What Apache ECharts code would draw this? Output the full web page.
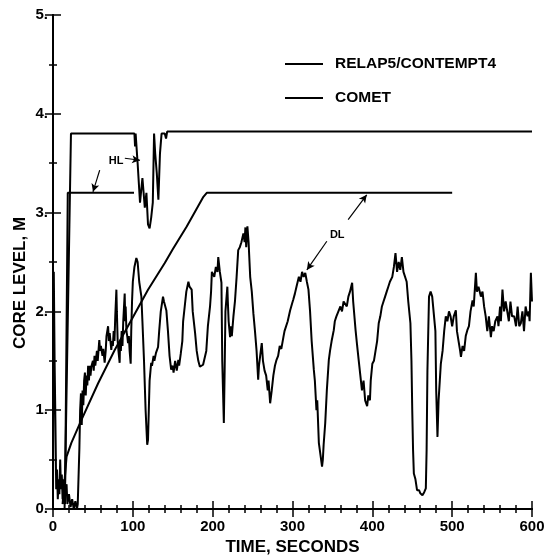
<!DOCTYPE html>
<html>
<head>
<meta charset="utf-8">
<script src="https://cdn.jsdelivr.net/npm/echarts@6/dist/echarts.min.js"></script>
<style>
  html, body { margin: 0; padding: 0; background: #fff; }
  #chart { width: 557px; height: 557px; }
</style>
</head>
<body>
<div id="chart"></div>
<script>
  // RELAP5/CONTEMPT4 core level (noisy curve)
  var relapTime = [0, 1, 2, 3, 4, 5, 6, 7, 8, 9, 10, 11, 12, 13, 14, 15, 17, 18, 20, 22, 24, 26, 28, 30, 31, 33, 34, 35, 36, 37, 38, 39, 40, 41, 42, 43, 44, 45, 46, 47, 48, 50, 51, 52, 53, 55, 56, 58, 59, 60, 62, 63, 64.7, 66, 67, 69, 70, 71, 73, 74, 75, 76, 77, 78, 79.4, 80, 81, 82, 83.5, 84, 85, 86, 87, 88, 89.8, 90.5, 91, 92, 93, 94, 95, 96, 97.3, 98, 99, 100, 102, 104.4, 106, 108, 110.7, 112, 114, 116, 118, 119, 120, 121, 123, 124, 126, 127, 129, 131.6, 133, 135, 137.8, 139, 140, 142, 144, 146, 148, 150, 151, 153, 155, 157, 158, 160, 162, 163, 165.4, 167, 169.6, 171, 173.7, 175, 178, 180, 182, 184, 186, 188, 190.5, 192, 194, 196.7, 198, 199, 201, 202, 204, 206, 207, 209, 211, 212, 214, 215, 216, 218.4, 219, 220, 221.8, 223, 224, 226, 228, 230, 232, 234, 236, 238.5, 240, 241, 242, 243.5, 245, 247, 249, 251, 253, 255, 257, 258, 259.5, 261.5, 263, 265, 267, 269, 270, 272, 274, 276, 278, 280, 282, 284, 286, 288.6, 290, 292, 294, 297, 299.5, 301, 303, 305, 308, 310, 312, 314, 316, 318, 320, 322, 324, 326.7, 328, 330, 331, 333, 335, 337, 338, 339, 341, 343, 345.5, 347, 349, 351.7, 353, 355, 358, 360, 362, 364, 366, 368, 370, 372, 374.7, 376, 379, 381, 383, 385, 387, 389, 391, 393.5, 395, 397, 398, 400, 402, 404, 406, 408, 410, 412, 414, 416, 418, 420, 422, 425, 427, 429, 431, 433, 435, 437, 439, 441.5, 443, 445, 447.7, 449, 450, 451, 452, 454, 456, 458.6, 460, 462.8, 465, 467, 468, 469, 471, 473, 475, 477.4, 479, 480, 481.6, 483, 485.8, 488, 490, 492, 494, 496, 498, 500, 502, 504.6, 506, 508, 510, 511, 513, 515, 517, 519, 521, 523, 525.5, 527, 529.7, 531, 533, 536, 538, 540, 542, 544, 546, 548.5, 550, 552, 554, 556.8, 558, 560, 561, 563, 565, 567, 569, 571, 573, 575, 577.7, 580, 582, 584, 586, 588, 590, 592, 594.4, 596, 597, 598.6, 600];
  var relapLevel = [0.1, 2.4, 1.5, 0.9, 0.2, 0.4, 0.1, 0.3, 0.15, 0.5, 0.2, 0.35, 0.1, 0.3, 0.05, 0.2, 0.25, 0.05, 0.15, 0.02, 0.1, 0.0, 0.08, 0.0, 0.05, 0.6, 1.0, 1.17, 0.85, 1.2, 1.05, 1.3, 1.38, 1.15, 1.35, 1.25, 1.45, 1.3, 1.45, 1.35, 1.44, 1.5, 1.4, 1.55, 1.45, 1.6, 1.5, 1.71, 1.6, 1.65, 1.55, 1.62, 1.48, 1.6, 1.75, 1.85, 1.7, 1.78, 1.61, 1.7, 1.65, 1.8, 1.7, 1.95, 2.22, 2.0, 1.7, 1.6, 1.48, 1.7, 1.6, 1.8, 1.65, 1.9, 2.18, 1.9, 2.05, 1.8, 1.75, 1.68, 1.75, 1.6, 1.47, 1.8, 2.1, 2.3, 2.45, 2.54, 2.5, 2.3, 2.15, 1.9, 1.5, 1.0, 0.65, 0.7, 1.0, 1.3, 1.48, 1.45, 1.55, 1.5, 1.58, 1.64, 1.8, 2.0, 2.15, 2.1, 2.12, 2.01, 1.8, 1.55, 1.41, 1.45, 1.38, 1.5, 1.4, 1.51, 1.45, 1.57, 1.7, 1.9, 2.08, 2.2, 2.3, 2.25, 2.22, 2.0, 1.78, 1.6, 1.5, 1.44, 1.42, 1.46, 1.47, 1.6, 1.85, 2.05, 2.2, 2.4, 2.42, 2.35, 2.45, 2.4, 2.55, 2.4, 2.29, 1.5, 0.87, 1.4, 2.0, 2.25, 2.1, 1.9, 1.74, 1.85, 1.75, 1.95, 2.11, 2.35, 2.62, 2.65, 2.7, 2.79, 2.7, 2.85, 2.65, 2.86, 2.7, 2.35, 2.2, 1.98, 1.8, 1.6, 1.31, 1.45, 1.55, 1.68, 1.5, 1.4, 1.35, 1.2, 1.3, 1.07, 1.2, 1.35, 1.45, 1.51, 1.55, 1.65, 1.62, 1.74, 1.8, 1.78, 1.9, 2.01, 2.08, 2.12, 2.18, 2.25, 2.35, 2.3, 2.4, 2.35, 2.39, 2.3, 2.22, 2.0, 1.7, 1.41, 1.3, 1.0, 1.1, 0.67, 0.55, 0.43, 0.5, 0.65, 0.87, 1.2, 1.51, 1.6, 1.7, 1.81, 1.9, 1.95, 2.01, 2.05, 2.0, 2.1, 2.11, 2.05, 2.15, 2.2, 2.29, 2.1, 1.81, 1.65, 1.5, 1.35, 1.2, 1.3, 1.1, 1.04, 1.15, 1.1, 1.3, 1.47, 1.5, 1.6, 1.7, 1.88, 1.95, 2.05, 2.1, 2.15, 2.2, 2.25, 2.3, 2.35, 2.45, 2.59, 2.4, 2.5, 2.42, 2.55, 2.4, 2.42, 2.3, 2.1, 1.88, 1.5, 1.0, 0.6, 0.36, 0.3, 0.19, 0.19, 0.16, 0.14, 0.17, 0.21, 0.6, 1.4, 2.15, 2.2, 2.15, 2.15, 1.8, 1.2, 0.73, 1.1, 1.47, 1.6, 1.8, 1.95, 1.9, 2.0, 1.95, 1.85, 1.95, 2.01, 1.8, 1.7, 1.6, 1.54, 1.65, 1.6, 1.75, 1.81, 1.85, 2.0, 2.11, 2.05, 2.39, 2.2, 2.25, 2.15, 2.2, 2.05, 1.95, 1.8, 1.95, 1.74, 1.85, 1.8, 1.9, 1.95, 1.85, 2.05, 1.9, 2.22, 2.0, 2.1, 2.0, 1.9, 2.1, 1.95, 1.95, 1.85, 2.05, 1.85, 1.88, 2.0, 1.8, 2.05, 1.95, 2.0, 1.9, 2.39, 2.1];

  // COMET upper level (HL)
  var hlTime = [14.5, 22.5, 102, 102.8, 103.5, 106, 109, 112, 115, 117, 119, 121, 123, 125, 126.6, 128, 130, 132, 134, 136, 140, 141.6, 143, 600];
  var hlLevel = [0.0, 3.8, 3.8, 3.67, 3.8, 3.5, 3.1, 3.35, 3.05, 3.2, 2.88, 2.84, 2.95, 3.1, 3.8, 3.6, 3.4, 3.13, 3.6, 3.8, 3.8, 3.75, 3.82, 3.82];

  // COMET short level at 3.2
  var shortTime = [15, 18.5, 101.5];
  var shortLevel = [0.05, 3.2, 3.2];

  // COMET downcomer level (DL)
  var dlTime = [12, 17, 23, 35.5, 56.4, 77.3, 98, 119, 140, 150, 167.5, 188.4, 192.6, 500];
  var dlLevel = [0.05, 0.53, 0.67, 0.9, 1.27, 1.61, 1.91, 2.22, 2.49, 2.63, 2.86, 3.16, 3.2, 3.2];

  // annotation arrows [fromT, fromY, toT, toY] and labels
  var arrows = [
    [90, 3.55, 109, 3.53],
    [58.5, 3.43, 50.1, 3.21],
    [369.7, 2.93, 393, 3.18],
    [343, 2.71, 318, 2.42]
  ];
  var noteNames = ['HL', 'DL'];
  var noteTime = [79, 356];
  var noteLevel = [3.52, 2.77];

  function zip(xs, ys) {
    var out = [];
    for (var i = 0; i < xs.length; i++) out.push([xs[i], ys[i]]);
    return out;
  }

  var font = 'Liberation Sans, Arial, Helvetica, sans-serif';
  var chart = echarts.init(document.getElementById('chart'));

  function lineSeries(name, data) {
    return {
      name: name,
      type: 'line',
      data: data,
      symbol: 'none',
      showSymbol: false,
      lineStyle: { color: '#000', width: 2 },
      itemStyle: { color: '#000' },
      silent: true
    };
  }

  var series = [
    lineSeries('RELAP5/CONTEMPT4', zip(relapTime, relapLevel)),
    lineSeries('COMET', zip(hlTime, hlLevel)),
    lineSeries('COMET', zip(shortTime, shortLevel)),
    lineSeries('COMET', zip(dlTime, dlLevel))
  ];

  series[3].markLine = {
    silent: true,
    symbol: ['none', 'arrow'],
    symbolSize: [6, 8],
    lineStyle: { color: '#000', type: 'solid', width: 1.2 },
    label: { show: false },
    data: arrows.map(function (a) {
      return [{ coord: [a[0], a[1]] }, { coord: [a[2], a[3]] }];
    })
  };
  series[3].markPoint = {
    silent: true,
    symbol: 'circle',
    symbolSize: 0,
    label: {
      show: true,
      position: 'inside',
      formatter: '{b}',
      color: '#000',
      fontFamily: font,
      fontWeight: 'bold',
      fontSize: 11
    },
    data: noteNames.map(function (n, i) {
      return { name: n, coord: [noteTime[i], noteLevel[i]] };
    })
  };

  var tickStyle = { color: '#000', width: 1.5 };

  var option = {
    animation: false,
    backgroundColor: '#fff',
    grid: { left: 53, right: 25, top: 15, bottom: 48, outerBoundsMode: 'none' },
    legend: {
      data: ['RELAP5/CONTEMPT4', 'COMET'],
      orient: 'vertical',
      left: 285,
      top: 56,
      padding: 0,
      icon: 'rect',
      itemWidth: 38,
      itemHeight: 2,
      itemGap: 18,
      itemStyle: { color: '#000' },
      textStyle: {
        color: '#000',
        fontFamily: font,
        fontWeight: 'bold',
        fontSize: 15.5,
        padding: [0, 0, 0, 7]
      },
      selectedMode: false
    },
    xAxis: [{
      type: 'value',
      min: 0,
      max: 600,
      interval: 100,
      name: 'TIME, SECONDS',
      nameLocation: 'middle',
      nameGap: 30,
      nameTextStyle: { color: '#000', fontFamily: font, fontWeight: 'bold', fontSize: 17 },
      axisLine: { lineStyle: { color: '#000', width: 2 } },
      axisTick: { inside: true, length: 8, lineStyle: tickStyle },
      minorTick: { show: true, splitNumber: 5, length: 4, lineStyle: tickStyle },
      axisLabel: { margin: 10, color: '#000', fontFamily: font, fontWeight: 'bold', fontSize: 15 },
      splitLine: { show: false }
    }, {
      type: 'value',
      position: 'top',
      min: 0,
      max: 600,
      interval: 100,
      axisLine: { show: true, lineStyle: { color: '#000', width: 2 } },
      axisTick: { inside: true, length: 8, lineStyle: tickStyle },
      minorTick: { show: true, splitNumber: 5, length: 4, lineStyle: tickStyle },
      axisLabel: { show: false },
      splitLine: { show: false }
    }],
    yAxis: [{
      type: 'value',
      min: 0,
      max: 5,
      interval: 1,
      name: 'CORE LEVEL, M',
      nameLocation: 'middle',
      nameGap: 24,
      nameMoveOverlap: false,
      nameTextStyle: {
        color: '#000', fontFamily: font, fontWeight: 'bold', fontSize: 17,
        padding: [0, 42, 0, 0]
      },
      axisLine: { show: true, lineStyle: { color: '#000', width: 2 } },
      axisTick: { inside: true, length: 8, lineStyle: tickStyle },
      minorTick: { show: true, splitNumber: 2, length: 4, lineStyle: tickStyle },
      axisLabel: {
        margin: 5, color: '#000', fontFamily: font, fontWeight: 'bold', fontSize: 15,
        formatter: function (v) { return v + '.'; }
      },
      splitLine: { show: false }
    }, {
      type: 'value',
      position: 'right',
      min: 0,
      max: 5,
      interval: 1,
      axisLine: { show: true, lineStyle: { color: '#000', width: 2 } },
      axisTick: { inside: true, length: 8, lineStyle: tickStyle },
      minorTick: { show: true, splitNumber: 2, length: 4, lineStyle: tickStyle },
      axisLabel: { show: false },
      splitLine: { show: false }
    }],
    series: series
  };

  chart.setOption(option);
  window.addEventListener('resize', function () { chart.resize(); });
</script>
</body>
</html>
